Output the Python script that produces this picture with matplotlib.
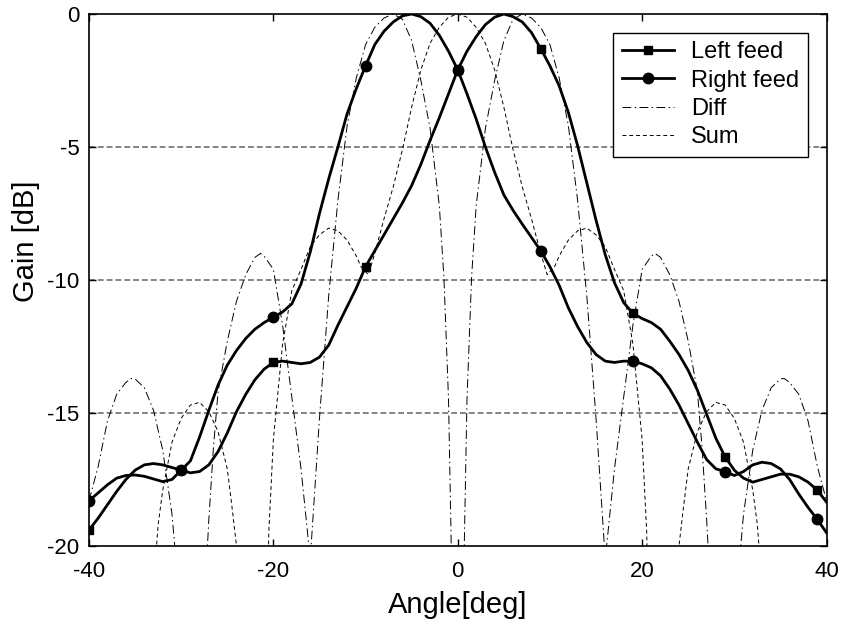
import matplotlib
matplotlib.use('Agg')
import matplotlib.pyplot as plt
import numpy as np

plt.rcParams['font.family'] = ['Liberation Sans', 'DejaVu Sans']

# ---------------- data ----------------
angle = list(range(-40, 41))

left_feed = [
    -19.4, -18.95, -18.45, -17.95, -17.5, -17.15, -16.95, -16.9, -16.95, -17.05,
    -17.15, -17.25, -17.2, -16.95, -16.45, -15.75, -14.95, -14.3, -13.75, -13.35,
    -13.1, -13.05, -13.1, -13.15, -13.1, -12.9, -12.45, -11.7, -11.0, -10.3,
    -9.5, -8.9, -8.3, -7.7, -7.1, -6.45, -5.65, -4.75, -3.9, -3.0,
    -2.1,
    -1.4, -0.85, -0.4, -0.12, 0.0, -0.1, -0.3, -0.7, -1.3, -1.95,
    -2.7, -3.7, -4.95, -6.35, -7.75, -9.05, -10.1, -10.85, -11.25, -11.45,
    -11.6, -11.85, -12.3, -12.8, -13.4, -14.15, -15.05, -15.95, -16.65, -17.15,
    -17.45, -17.6, -17.5, -17.4, -17.3, -17.3, -17.4, -17.6, -17.9, -18.35,
]

right_feed = [
    -18.3, -18.0, -17.7, -17.45, -17.35, -17.33, -17.38, -17.48, -17.58, -17.5,
    -17.15, -16.8, -15.9, -14.9, -13.95, -13.2, -12.65, -12.2, -11.85, -11.6,
    -11.4, -11.2, -10.9, -10.15, -8.95, -7.5, -6.2, -5.0, -3.75, -2.8,
    -1.95, -1.15, -0.65, -0.3, -0.07, 0.0, -0.1, -0.35, -0.8, -1.4,
    -2.1,
    -3.0, -3.95, -5.0, -5.95, -6.8, -7.38, -7.9, -8.4, -8.9, -9.5,
    -10.2, -11.05, -11.75, -12.35, -12.8, -13.05, -13.1, -13.05, -13.05, -13.15,
    -13.3, -13.6, -14.1, -14.7, -15.4, -16.1, -16.75, -17.1, -17.2, -17.35,
    -17.2, -16.95, -16.85, -16.9, -17.1, -17.5, -18.05, -18.55, -19.0, -19.5,
]

marker_angles = [-40, -30, -20, -10, 0, 9, 19, 29, 39]

sum_angle = [
    -40, -33.5, -33, -32.5, -32, -31, -30, -29, -28, -27, -26, -25, -24.5, -24,
    -23.7, -21, -20.5, -20, -19, -18, -17, -16, -15, -14, -13, -12, -11, -10.5,
    -9.7, -9, -8, -7, -6, -5, -4, -3, -2, -1,
    0,
    1, 2, 3, 4, 5, 6, 7, 8, 9, 9.7,
    10.5, 11, 12, 13, 14, 15, 16, 17, 18, 19, 20, 20.5, 21,
    23.7, 24, 24.5, 25, 26, 27, 28, 29, 30, 31, 32, 32.5, 33, 33.5, 40,
]
sum_gain = [
    -30, -30, -21.5, -19.2, -17.9, -16.1, -15.2, -14.7, -14.6, -14.95, -15.7, -17.1, -18.5, -20,
    -30, -30, -19.5, -16.0, -12.4, -10.4, -9.6, -8.75, -8.3, -8.05, -8.15, -8.5, -9.1, -9.5,
    -9.8, -9.0, -7.7, -6.5, -5.1, -3.5, -2.1, -1.1, -0.5, -0.12,
    0.0,
    -0.12, -0.5, -1.1, -2.1, -3.5, -5.1, -6.5, -7.7, -9.0, -9.8,
    -9.5, -9.1, -8.5, -8.15, -8.05, -8.3, -8.75, -9.6, -10.4, -12.4, -16.0, -19.5, -30,
    -30, -20, -18.5, -17.1, -15.7, -14.95, -14.6, -14.7, -15.2, -16.1, -17.9, -19.2, -21.5, -30, -30,
]

diff_angle = [
    -40, -39, -38, -37, -36, -35.4, -35, -34, -33, -32, -31, -30.7, -30.2,
    -27.6, -27.3, -27, -26.5, -26, -25, -24, -23, -22, -21.4, -21, -20, -19, -18, -17,
    -16, -15, -14, -13, -12, -11, -10, -9, -8, -7, -6, -5, -4, -3, -2, -1.5, -1, -0.6,
    0,
    0.6, 1, 1.5, 2, 3, 4, 5, 6, 7, 8, 9, 10, 11, 12, 13, 14, 15, 16,
    17, 18, 19, 20, 21, 21.4, 22, 23, 24, 25, 26, 26.5, 27, 27.3, 27.6,
    30.2, 30.7, 31, 32, 33, 34, 35, 35.4, 36, 37, 38, 39, 40,
]
diff_gain = [
    -18.3, -17.0, -15.3, -14.3, -13.85, -13.7, -13.72, -14.05, -14.9, -16.4, -18.8, -20, -30,
    -30, -21, -19.0, -16.3, -14.2, -12.3, -10.8, -9.8, -9.15, -9.0, -9.1, -9.6, -11.7, -14.4, -17.1,
    -20.5, -15.2, -10.6, -7.0, -4.2, -2.4, -1.15, -0.5, -0.15, 0.0, -0.2, -1.0, -2.5, -4.3, -7.2, -9.9, -14.5, -22,
    -40,
    -22, -14.5, -9.9, -7.2, -4.3, -2.5, -1.0, -0.2, 0.0, -0.15, -0.5, -1.15, -2.4, -4.2, -7.0, -10.6, -15.2, -20.5,
    -17.1, -14.4, -11.7, -9.6, -9.1, -9.0, -9.15, -9.8, -10.8, -12.3, -14.2, -16.3, -19.0, -21, -30,
    -30, -20, -18.8, -16.4, -14.9, -14.05, -13.72, -13.7, -13.85, -14.3, -15.3, -17.0, -18.3,
]

x_ticks = [-40, -20, 0, 20, 40]
y_ticks = [-20, -15, -10, -5, 0]
grid_levels = [-15, -10, -5]

# ---------------- figure ----------------
fig = plt.figure(figsize=(8.43, 6.25), dpi=100)
ax = fig.add_axes([89 / 843, (625 - 546) / 625, (826.5 - 89) / 843, (546 - 14) / 625])

mark_idx = [angle.index(a) for a in marker_angles]

ax.plot(angle, left_feed, color='black', lw=2.0, marker='s', markersize=6,
        markevery=mark_idx, label='Left feed', zorder=4)
ax.plot(angle, right_feed, color='black', lw=2.0, marker='o', markersize=7.5,
        markevery=mark_idx, label='Right feed', zorder=5)
ax.plot(diff_angle, diff_gain, color='black', lw=0.7, dashes=(9, 3.5, 1.5, 3.5),
        label='Diff', zorder=3)
ax.plot(sum_angle, sum_gain, color='black', lw=0.7, dashes=(4, 3),
        label='Sum', zorder=3)

ax.set_xlim(-40, 40)
ax.set_ylim(-20, 0)
ax.set_xticks(x_ticks)
ax.set_yticks(y_ticks)
ax.set_xticklabels([str(t) for t in x_ticks])
ax.set_yticklabels([str(t) for t in y_ticks])

for yv in grid_levels:
    ax.axhline(yv, color='#707070', lw=1.2, dashes=(3.5, 1.8), zorder=1)

ax.tick_params(direction='in', length=5, width=1, top=True, right=True,
               labelsize=16, colors='black')
ax.tick_params(axis='x', pad=11)
ax.tick_params(axis='y', pad=7)
for s in ax.spines.values():
    s.set_linewidth(1.2)

ax.set_xlabel('Angle[deg]', fontsize=21, labelpad=6)
ax.set_ylabel('Gain [dB]', fontsize=21)
ax.yaxis.set_label_coords(-0.066, (546 - 241) / 532)

leg = ax.legend(loc='upper right', fontsize=17, frameon=True, fancybox=False,
                edgecolor='black', framealpha=1, borderaxespad=0.8,
                handlelength=2.2, handletextpad=0.75, labelspacing=0.27,
                borderpad=0.35, numpoints=1)
leg.get_frame().set_linewidth(1.0)

fig.savefig('out.png', dpi=100)
